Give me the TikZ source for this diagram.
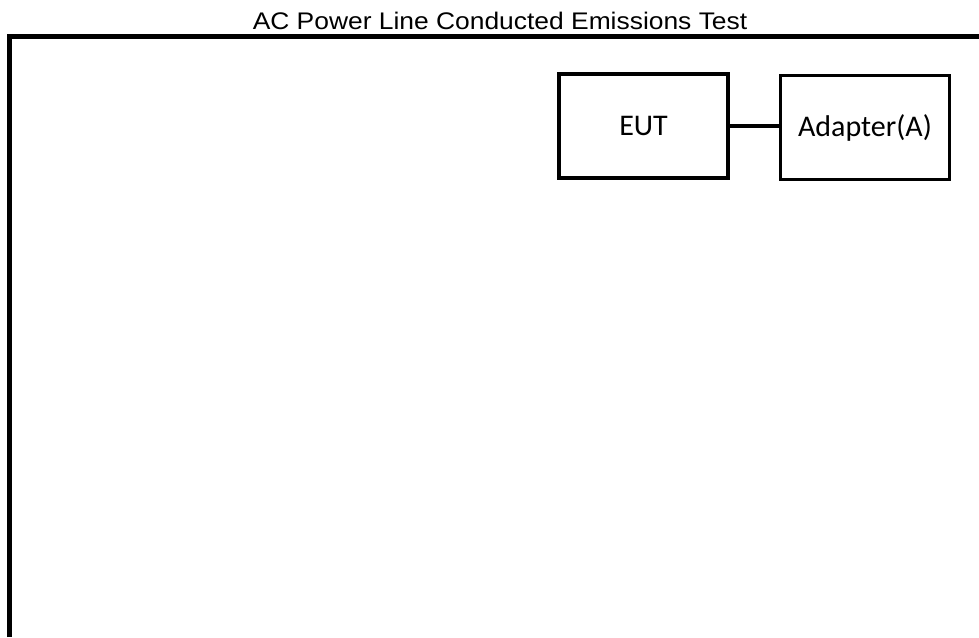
\documentclass[tikz,border=0pt]{standalone}
\usepackage{fontspec}
\setmainfont{Carlito}
\newfontfamily\titlefont[FakeStretch=1.1]{Liberation Sans}
\usepackage{tikz}
\usetikzlibrary{positioning}

\begin{document}
\begin{tikzpicture}[x=1pt,y=-1pt,node distance=49pt]
\tikzstyle{box}=[rectangle,draw,line width=3.5pt,minimum width=169pt,minimum height=104pt,inner sep=0pt,font=\fontsize{30}{36}\selectfont]
\useasboundingbox (0,0) rectangle (979,637);
\node[anchor=base,font=\titlefont\fontsize{24}{29}\selectfont] (title) at (500,29) {AC Power Line Conducted Emissions Test};
% test area
\draw[line width=4.5pt] (9.5,637) -- (9.5,36.5) -- (979,36.5);
\node[box] (eut) at (643.5,126) {EUT};
\node[box,right=of eut,yshift=-1.5pt] (adapter) {Adapter(A)};
\draw[line width=4pt] (eut) -- (eut -| adapter.west);
\end{tikzpicture}
\end{document}
